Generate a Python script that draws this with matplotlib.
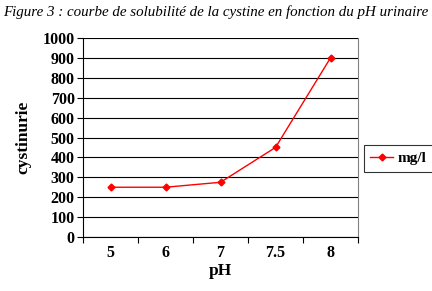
import matplotlib
matplotlib.use("Agg")
import matplotlib.pyplot as plt
from matplotlib.lines import Line2D

categories = ["5", "6", "7", "7.5", "8"]
values = [250, 250, 275, 450, 900]
yticks = list(range(0, 1001, 100))

fig = plt.figure(figsize=(4.32, 2.91), dpi=100)
ax = fig.add_axes([83/432, 1-237/291, 275/432, 199/291])

x = list(range(len(categories)))
ax.plot(x, values, color="#ff0000", lw=1.0, marker="D", ms=3.5, label="mg/l")
ax.set_xlim(-0.5, len(categories)-0.5)
ax.set_ylim(0, 1000)
ax.set_yticks(yticks)
ax.set_yticklabels([str(t) for t in yticks], fontfamily="Liberation Serif", fontweight="bold", fontsize=11.5)
ax.set_xticks(x)
ax.set_xticklabels(categories, fontfamily="Liberation Serif", fontweight="bold", fontsize=11.5)
ax.set_xticks([i-0.5 for i in range(len(categories)+1)], minor=True)
ax.tick_params(axis="x", which="major", length=0, pad=6)
ax.tick_params(axis="x", which="minor", length=4, direction="out", width=0.8)
ax.tick_params(axis="y", length=4, direction="out", width=0.8, pad=2)
ax.grid(axis="y", color="black", lw=0.8)
ax.set_axisbelow(True)
ax.spines["top"].set_visible(False)
ax.spines["right"].set_color("#808080")
ax.spines["left"].set_color("black")
ax.spines["bottom"].set_color("black")
ax.set_xlabel("pH", fontfamily="Liberation Serif", fontweight="bold", fontsize=12.5, labelpad=1)
ax.set_ylabel("cystinurie", fontfamily="Liberation Serif", fontweight="bold", fontsize=12.5, labelpad=8)

leg = fig.legend(handles=[Line2D([0], [0], color="#ff0000", lw=1.0, marker="D", ms=3.5)], labels=["mg/l"],
                 loc="upper left", bbox_to_anchor=(364/432, 1-145/291), frameon=True, fancybox=False,
                 prop={"family": "Liberation Serif", "weight": "bold", "size": 11},
                 handlelength=1.5, handletextpad=0.3, borderpad=0.42, borderaxespad=0)
leg.get_frame().set_edgecolor("black")
leg.get_frame().set_linewidth(0.8)
leg._legend_box.sep = 0

fig.text(0.5, 1-12/291, "Figure 3 : courbe de solubilité de la cystine en fonction du pH urinaire",
         ha="center", va="center", fontfamily="Liberation Serif", fontstyle="italic", fontsize=10.8)

fig.savefig("out.png", dpi=100)
